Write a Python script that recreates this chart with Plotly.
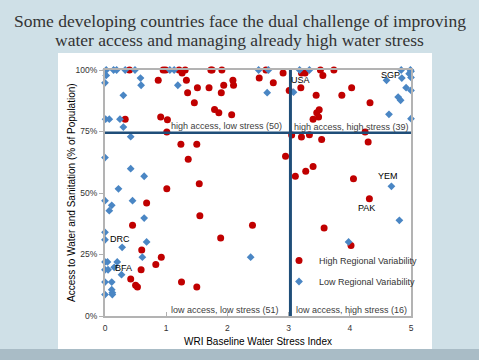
import plotly.graph_objects as go

# ---------------- data ----------------
high_var_x = [0.40, 0.95, 0.99, 1.21, 1.26, 1.31, 1.73, 1.75, 1.91, 0.87, 1.33, 1.51, 1.70, 1.94, 2.09,
              2.10, 1.35, 1.90, 1.46, 1.79, 1.86, 2.07, 0.91, 1.02, 0.33, 1.01, 1.24, 1.50, 1.36, 1.54,
              1.01, 2.52, 2.63, 2.75, 2.91, 3.01, 3.21, 3.27, 3.52, 3.56, 3.74, 3.20, 4.03, 3.45, 3.87,
              4.33, 3.50, 3.46, 3.49, 3.40, 3.21, 3.34, 3.54, 4.25, 4.30, 2.95, 3.40, 3.28, 3.11, 4.06,
              3.05, 0.68, 1.55, 2.41, 0.45, 1.89, 0.60, 0.92, 0.83, 0.59, 0.42, 0.50, 0.53, 1.25, 1.50,
              4.32, 3.58, 4.02]
high_var_y = [100, 100, 100, 100, 98.8, 100, 100, 100, 100, 95.8, 95.8, 92.8, 92.8, 93.8, 95.8,
              93.8, 90.8, 90.8, 86.7, 83.9, 82.6, 81.8, 80.9, 79.8, 80, 74.8, 69.8, 69.8, 63.7, 53.8,
              51.7, 96.7, 100, 94.8, 98.8, 91.7, 98.8, 98.8, 100, 97.8, 100, 92.8, 92.8, 89.7, 89.7,
              86.7, 83.8, 82.6, 80.9, 80, 72.8, 73.7, 71.7, 74.8, 70.7, 64.9, 60.8, 58.8, 56.8, 55.8,
              73.6, 45.9, 40.8, 36.9, 36.9, 31.7, 26.8, 23.9, 20.9, 18.8, 15, 12.5, 11.8, 13.8, 11.8,
              47.7, 35.8, 28.7]

low_var_x = [0.02, 0.14, 0.19, 0.33, 0.49, 1.06, 1.13, 0.02, 0.00, 0.58, 0.59, 0.30, 1.19, 0.01, 0.07,
             0.245, 0.30, 0.42, 0.00, 0.42, 0.64, 0.22, 2.51, 2.67, 2.65, 3.18, 3.34, 3.08, 4.60, 4.85,
             4.97, 5.00, 5.00, 4.99, 4.92, 5.00, 4.79, 4.83, 4.64, 5.00, 4.68, 0.00, 0.11, 0.07, 0.45,
             0.64, 0.00, 0.00, 0.28, 0.68, 0.61, 0.00, 0.04, 0.20, 0.00, 0.05, 0.15, 0.27, 0.00, 0.11,
             0.00, 0.11, 0.12, 0.12, 2.38, 4.81, 3.98, 4.84]
low_var_y = [100, 100, 100, 100, 100, 100, 100, 97.8, 94.8, 96.7, 93.8, 89.7, 93.8, 80, 80,
             80, 76.8, 72.9, 64.4, 59.9, 56.8, 51.7, 100, 100, 90.8, 100, 100, 91, 95.8, 96.7,
             98.5, 99.5, 97, 100, 92.8, 91.7, 89, 87.7, 82, 80.2, 52.7, 46.9, 45, 42.8, 46.9,
             39.8, 34, 31, 27.9, 30.1, 23.9, 22, 22, 22, 18.8, 18.8, 19.8, 16.8, 13.8, 13.8,
             8.7, 10.7, 9.5, 8.7, 23.9, 38.9, 30.1, 100]

country_names = ["USA", "SGP", "YEM", "PAK", "DRC", "BFA"]
country_x = [3.19, 4.66, 4.62, 4.27, 0.25, 0.31]
country_y = [96, 98, 57, 44, 31.3, 19.5]

quadrant_texts = ["high access, low stress (50)", "high access, high stress (39)",
                  "low access, low stress (51)", "low access, high stress (16)"]
quadrant_x = [1.99, 4.02, 1.96, 4.03]
quadrant_y = [77.2, 76.8, 2.6, 2.6]

stress_threshold = 3.03
access_threshold = 74.5
x_ticks = [0, 1, 2, 3, 4, 5]
y_ticks = [0, 25, 50, 75, 100]
y_tick_labels = ["0%", "25%", "50%", "75%", "100%"]

title_lines = ["Some developing countries face the dual challenge of improving",
               "water access and managing already high water stress"]
x_title = "WRI Baseline Water Stress Index"
y_title = "Access to Water and Sanitation (% of Population)"

# ---------------- figure ----------------
W, H = 479, 360
L, R, T, B = 105, 68, 70, 44
pw, ph = W - L - R, H - T - B


def px_x(p):
    return (p - L) / pw


def px_y(p):
    return (H - B - p) / ph


fig = go.Figure()

fig.add_trace(go.Scatter(
    x=high_var_x, y=high_var_y, mode="markers", name="High Regional Variability",
    marker=dict(symbol="circle", size=7, color="#c00000"), cliponaxis=False,
    legendgroup="a"))
fig.add_trace(go.Scatter(
    x=low_var_x, y=low_var_y, mode="markers", name="Low Regional Variability",
    marker=dict(symbol="diamond", size=6, color="#4a86c4"), cliponaxis=False,
    legendgroup="b"))

shapes = [
    dict(type="rect", xref="paper", yref="paper", x0=px_x(58), x1=px_x(432), y0=px_y(349), y1=px_y(53),
         fillcolor="white", line=dict(width=0), layer="below"),
    dict(type="rect", xref="paper", yref="paper", x0=px_x(0), x1=px_x(479), y0=px_y(360), y1=px_y(349),
         fillcolor="#a9bcc6", line=dict(width=0), layer="below"),
    dict(type="line", xref="x", yref="y", x0=stress_threshold, x1=stress_threshold, y0=0, y1=100,
         line=dict(color="#1f4e79", width=3)),
    dict(type="line", xref="x", yref="y", x0=0, x1=5, y0=access_threshold, y1=access_threshold,
         line=dict(color="#1f4e79", width=2.5)),
]

annotations = []
for n, x, y in zip(country_names, country_x, country_y):
    annotations.append(dict(x=x, y=y, xref="x", yref="y", text=n, showarrow=False,
                            font=dict(family="Liberation Sans", size=9, color="#000000")))
for t, x, y in zip(quadrant_texts, quadrant_x, quadrant_y):
    annotations.append(dict(x=x, y=y, xref="x", yref="y", text=t, showarrow=False,
                            font=dict(family="Liberation Sans", size=9, color="#404040")))
for line, ypx in zip(title_lines, [21.5, 40]):
    annotations.append(dict(x=px_x(239.5), y=px_y(ypx), xref="paper", yref="paper", text=line,
                            showarrow=False, xanchor="center", yanchor="middle",
                            font=dict(family="Liberation Serif", size=17.5, color="#333333")))
annotations.append(dict(x=px_x(71), y=0.5, xref="paper", yref="paper", text=y_title, textangle=-90,
                        showarrow=False, xanchor="center", yanchor="middle",
                        font=dict(family="Liberation Sans", size=10, color="#000000")))

fig.update_layout(
    width=W, height=H,
    margin=dict(l=L, r=R, t=T, b=B),
    paper_bgcolor="#cfe0e7",
    plot_bgcolor="white",
    shapes=shapes,
    annotations=annotations,
    showlegend=True,
    legend=dict(x=px_x(279), y=px_y(246), xanchor="left", yanchor="top",
                bgcolor="rgba(0,0,0,0)", font=dict(family="Liberation Sans", size=9, color="#333333"),
                traceorder="grouped", tracegroupgap=2),
    xaxis=dict(range=[0, 5], tickvals=x_ticks, ticks="inside", ticklen=4, tickcolor="#b0b0b0",
               showgrid=False, zeroline=False, showline=True, linecolor="#b3b3b3", linewidth=2,
               mirror=True, ticklabelstandoff=3,
               tickfont=dict(family="Liberation Sans", size=8.5, color="#333333"),
               title=dict(text=x_title, standoff=6,
                          font=dict(family="Liberation Sans", size=10, color="#000000"))),
    yaxis=dict(range=[0, 100], tickvals=y_ticks, ticktext=y_tick_labels, ticks="outside", ticklen=4,
               tickcolor="#b0b0b0", showgrid=False, zeroline=False, showline=True,
               linecolor="#b3b3b3", linewidth=2, mirror=True,
               tickfont=dict(family="Liberation Sans", size=8.5, color="#333333")),
)

fig.write_html("out.html", post_script="document.body.style.margin='0px';",
               config={"displayModeBar": False})
